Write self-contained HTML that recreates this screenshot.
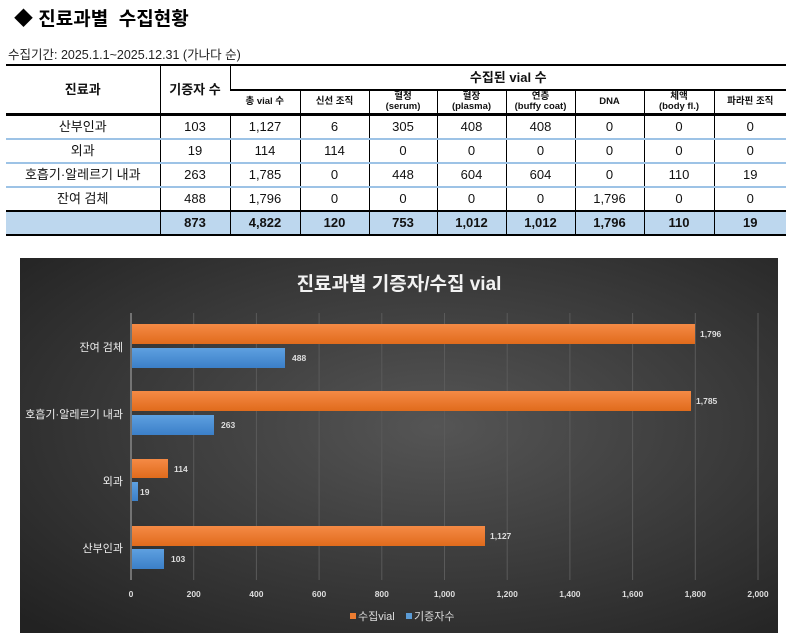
<!DOCTYPE html>
<html><head><meta charset="utf-8"><style>
body{margin:0;width:793px;height:640px;background:#fff;position:relative;overflow:hidden;font-family:"Liberation Sans","Noto Sans CJK KR",sans-serif;}
.t{position:absolute;white-space:nowrap;}
table{position:absolute;left:6px;top:64px;border-collapse:collapse;width:780px;table-layout:fixed;font-size:13px;color:#111;}
td{text-align:center;padding:0;height:22px;border-left:1px solid #000;line-height:14px;}
td:first-child{border-left:none;}
.h td{font-weight:bold;}
.sm{font-size:9.5px;line-height:10px;font-weight:bold;}
.r td{border-bottom:2px solid #9dc3e6;}
.tot td{background:#bdd7ee;font-weight:bold;border-top:2px solid #000;border-bottom:2px solid #000;}
</style></head><body>
<div class="t" style="left:14px;top:4px;font-size:19px;font-weight:bold;">◆ 진료과별&nbsp; 수집현황</div>
<div class="t" style="left:8px;top:44px;font-size:12.5px;color:#222;">수집기간: 2025.1.1~2025.12.31 (가나다 순)</div>
<table>
<colgroup><col style="width:154px"><col style="width:70px"><col style="width:70px"><col style="width:69px"><col style="width:68px"><col style="width:69px"><col style="width:69px"><col style="width:69px"><col style="width:70px"><col style="width:72px"></colgroup>
<tr class="h" style="border-top:2px solid #000;"><td rowspan="2" style="border-bottom:3px solid #000;height:45px;">진료과</td><td rowspan="2" style="border-bottom:3px solid #000;">기증자 수</td><td colspan="8" style="border-bottom:2px solid #000;height:23px;">수집된 vial 수</td></tr>
<tr style="border-bottom:3px solid #000;"><td class="sm" style="height:21px;">총 vial 수</td><td class="sm">신선 조직</td><td class="sm">혈청<br>(serum)</td><td class="sm">혈장<br>(plasma)</td><td class="sm">연층<br>(buffy coat)</td><td class="sm">DNA</td><td class="sm">체액<br>(body fl.)</td><td class="sm">파라핀 조직</td></tr>
<tr class="r"><td>산부인과</td><td>103</td><td>1,127</td><td>6</td><td>305</td><td>408</td><td>408</td><td>0</td><td>0</td><td>0</td></tr>
<tr class="r"><td>외과</td><td>19</td><td>114</td><td>114</td><td>0</td><td>0</td><td>0</td><td>0</td><td>0</td><td>0</td></tr>
<tr class="r"><td>호흡기·알레르기 내과</td><td>263</td><td>1,785</td><td>0</td><td>448</td><td>604</td><td>604</td><td>0</td><td>110</td><td>19</td></tr>
<tr><td>잔여 검체</td><td>488</td><td>1,796</td><td>0</td><td>0</td><td>0</td><td>0</td><td>1,796</td><td>0</td><td>0</td></tr>
<tr class="tot"><td></td><td>873</td><td>4,822</td><td>120</td><td>753</td><td>1,012</td><td>1,012</td><td>1,796</td><td>110</td><td>19</td></tr>
</table>
<svg style="position:absolute;left:0;top:0" width="793" height="640" font-family="Liberation Sans, Noto Sans CJK KR, sans-serif">
<defs>
<radialGradient id="bg" cx="0.55" cy="0.45" r="0.75"><stop offset="0" stop-color="#555"/><stop offset="1" stop-color="#222"/></radialGradient>
<linearGradient id="og" x1="0" y1="0" x2="0" y2="1"><stop offset="0" stop-color="#f58a45"/><stop offset="1" stop-color="#e06b1c"/></linearGradient>
<linearGradient id="bl" x1="0" y1="0" x2="0" y2="1"><stop offset="0" stop-color="#5ea0e0"/><stop offset="1" stop-color="#3b7fc8"/></linearGradient>
</defs>
<rect x="20" y="258" width="758" height="375" fill="url(#bg)"/>
<text x="399" y="290" font-size="19" font-weight="bold" fill="#f2f2f2" text-anchor="middle">진료과별 기증자/수집 vial</text>
<g stroke="#5a5a5a" stroke-width="1">
<line x1="193.7" y1="313" x2="193.7" y2="580"/><line x1="256.4" y1="313" x2="256.4" y2="580"/><line x1="319.1" y1="313" x2="319.1" y2="580"/><line x1="381.8" y1="313" x2="381.8" y2="580"/><line x1="444.5" y1="313" x2="444.5" y2="580"/><line x1="507.2" y1="313" x2="507.2" y2="580"/><line x1="569.9" y1="313" x2="569.9" y2="580"/><line x1="632.6" y1="313" x2="632.6" y2="580"/><line x1="695.3" y1="313" x2="695.3" y2="580"/><line x1="758" y1="313" x2="758" y2="580"/>
</g>
<line x1="131" y1="313" x2="131" y2="580" stroke="#888" stroke-width="1.5"/>
<g>
<rect x="132" y="324" width="563" height="20" fill="url(#og)"/><rect x="132" y="348" width="153" height="20" fill="url(#bl)"/>
<rect x="132" y="391" width="559" height="20" fill="url(#og)"/><rect x="132" y="415" width="82" height="20" fill="url(#bl)"/>
<rect x="132" y="459" width="36" height="19" fill="url(#og)"/><rect x="132" y="482" width="6" height="19" fill="url(#bl)"/>
<rect x="132" y="526" width="353" height="20" fill="url(#og)"/><rect x="132" y="549" width="32" height="20" fill="url(#bl)"/>
</g>
<g font-size="8.5" font-weight="bold" fill="#ddd">
<text x="700" y="337">1,796</text><text x="292" y="361">488</text>
<text x="696" y="404">1,785</text><text x="221" y="428">263</text>
<text x="174" y="472">114</text><text x="140" y="495">19</text>
<text x="490" y="539">1,127</text><text x="171" y="562">103</text>
</g>
<g font-size="11" fill="#eee" text-anchor="end">
<text x="123" y="351">잔여 검체</text><text x="123" y="418">호흡기·알레르기 내과</text><text x="123" y="485">외과</text><text x="123" y="552">산부인과</text>
</g>
<g font-size="8.5" font-weight="bold" fill="#ddd" text-anchor="middle">
<text x="131" y="597">0</text><text x="193.7" y="597">200</text><text x="256.4" y="597">400</text><text x="319.1" y="597">600</text><text x="381.8" y="597">800</text><text x="444.5" y="597">1,000</text><text x="507.2" y="597">1,200</text><text x="569.9" y="597">1,400</text><text x="632.6" y="597">1,600</text><text x="695.3" y="597">1,800</text><text x="758" y="597">2,000</text>
</g>
<rect x="350" y="613" width="6" height="6" fill="#ed7d31"/><text x="358" y="620" font-size="11" fill="#ddd">수집vial</text>
<rect x="406" y="613" width="6" height="6" fill="#5b9bd5"/><text x="414" y="620" font-size="11" fill="#ddd">기증자수</text>
</svg>
</body></html>
